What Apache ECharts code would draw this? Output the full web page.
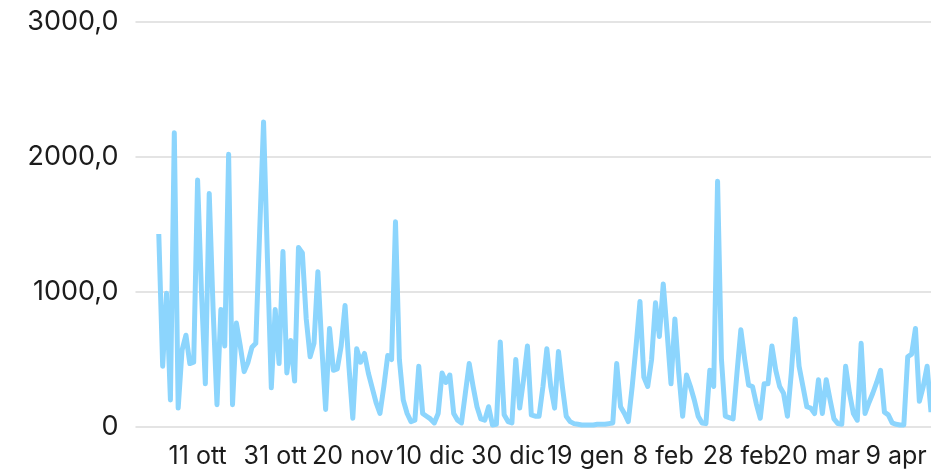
<!DOCTYPE html>
<html>
<head>
<meta charset="utf-8">
<script src="https://cdn.jsdelivr.net/npm/echarts@6/dist/echarts.min.js"></script>
<style>
  html, body { margin: 0; padding: 0; background: #fff; }
  #chart { width: 931px; height: 470px; }
</style>
</head>
<body>
<div id="chart"></div>
<script>
var monthNames = ['gen', 'feb', 'mar', 'apr', 'mag', 'giu', 'lug', 'ago', 'set', 'ott', 'nov', 'dic'];
var tickLabels = ['11 ott', '31 ott', '20 nov', '10 dic', '30 dic', '19 gen', '8 feb', '28 feb', '20 mar', '9 apr'];
var yTicks = [0, 1000, 2000, 3000];
var padDays = 6; // empty days before the first value (axis starts 25 set)

// daily values from 1 ott to 18 apr
var values = [
    1430, 450, 990, 200, 2180, 140, 570, 680, 470, 480,
    1830, 1000, 320, 1730, 870, 165, 870, 600, 2020, 165,
    770, 600, 410, 480, 590, 620, 1450, 2260, 1250, 290,
    870, 470, 1300, 400, 640, 340, 1330, 1290, 800, 520,
    620, 1150, 600, 130, 730, 420, 430, 600, 900, 450,
    65, 580, 480, 545, 400, 290, 180, 100, 300, 530,
    500, 1520, 500, 200, 100, 40, 50, 450, 100, 80,
    60, 30, 100, 400, 330, 385, 100, 50, 30, 250,
    470, 300, 150, 60, 50, 150, 15, 20, 630, 90,
    40, 30, 500, 140, 350, 600, 90, 80, 80, 300,
    580, 300, 140, 560, 300, 80, 40, 25, 20, 15,
    15, 15, 15, 20, 20, 20, 25, 30, 470, 150,
    100, 40, 300, 600, 930, 370, 300, 500, 920, 670,
    1060, 700, 320, 800, 400, 80, 385, 300, 200, 80,
    30, 25, 420, 300, 1820, 500, 80, 70, 60, 400,
    720, 500, 310, 300, 170, 65, 320, 320, 600, 420,
    300, 250, 80, 400, 800, 450, 300, 150, 140, 100,
    350, 100, 350, 200, 60, 25, 20, 450, 250, 100,
    50, 620, 100, 180, 250, 330, 420, 110, 90, 30,
    20, 15, 15, 520, 540, 730, 190, 300, 450, 110
];

var categories = [];
var seriesData = [];
var start = Date.UTC(2022, 8, 25);
for (var i = 0; i < padDays + values.length; i++) {
    var d = new Date(start + i * 86400000);
    categories.push(d.getUTCDate() + ' ' + monthNames[d.getUTCMonth()]);
    seriesData.push(i < padDays ? null : values[i - padDays]);
}

var myChart = echarts.init(document.getElementById('chart'));
var option = {
    animation: false,
    grid: { left: 135.5, right: 0, top: 22, bottom: 43 },
    xAxis: {
        type: 'category',
        data: categories,
        boundaryGap: false,
        axisLine: { show: false },
        axisTick: { show: false },
        splitLine: { show: false },
        axisLabel: {
            interval: function (index, value) { return tickLabels.indexOf(value) >= 0; },
            color: '#1c1c1c',
            fontFamily: 'Inter',
            fontSize: 25,
            margin: 17
        }
    },
    yAxis: {
        type: 'value',
        min: yTicks[0],
        max: yTicks[yTicks.length - 1],
        interval: 1000,
        axisLine: { show: false },
        axisTick: { show: false },
        splitLine: { lineStyle: { color: '#e4e4e4', width: 2 } },
        axisLabel: {
            color: '#1c1c1c',
            fontFamily: 'Inter',
            fontSize: 27,
            margin: 17,
            formatter: function (v) { return v === 0 ? '0' : v.toFixed(1).replace('.', ','); }
        }
    },
    series: [{
        type: 'line',
        data: seriesData,
        showSymbol: false,
        symbol: 'none',
        lineStyle: { color: '#8cd5fd', width: 5, join: 'round' }
    }]
};
myChart.setOption(option);
</script>
</body>
</html>
